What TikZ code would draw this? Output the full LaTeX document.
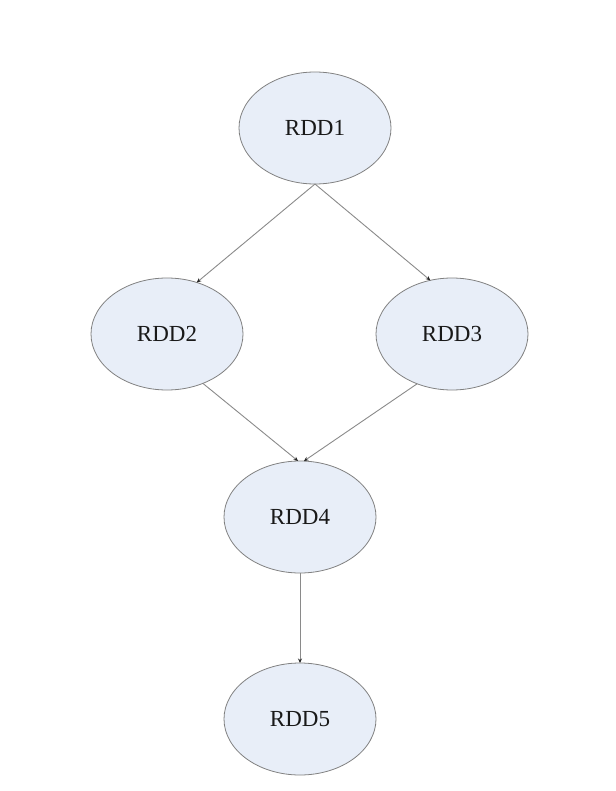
\documentclass[tikz,border=0pt]{standalone}
\usepackage{fontspec}
\setmainfont{Liberation Serif}
\usetikzlibrary{shapes.geometric,arrows.meta}
\definecolor{rddfill}{HTML}{E8EEF8}
\definecolor{rddline}{HTML}{808080}
\definecolor{edgeline}{HTML}{8A8A8A}
\begin{document}
\begin{tikzpicture}[x=1bp,y=-1bp,
  rdd/.style={ellipse,draw=rddline,fill=rddfill,line width=0.8bp,
    minimum width=152bp,minimum height=112bp,inner sep=0pt,outer sep=0pt,
    font=\fontsize{23bp}{26bp}\selectfont,text=black!90},
  conn/.style={draw=edgeline,line width=0.9bp,
    -{Stealth[length=4.5bp,width=4bp,color=black!85]}}]
\useasboundingbox (0,0) rectangle (616,791);
\node[rdd] (r1) at (315,128) {RDD1};
\node[rdd] (r2) at (167,334) {RDD2};
\node[rdd] (r3) at (452,334) {RDD3};
\node[rdd] (r4) at (300,517) {RDD4};
\node[rdd] (r5) at (300,719) {RDD5};
\draw[conn] (r1.south) -- (r2.60);
\draw[conn] (r1.south) -- (r3.112);
\draw[conn] (r2.-54) -- (r4.92);
\draw[conn] (r3.235) -- (r4.86);
\draw[conn] (r4.south) -- (r5.north);
\end{tikzpicture}
\end{document}
